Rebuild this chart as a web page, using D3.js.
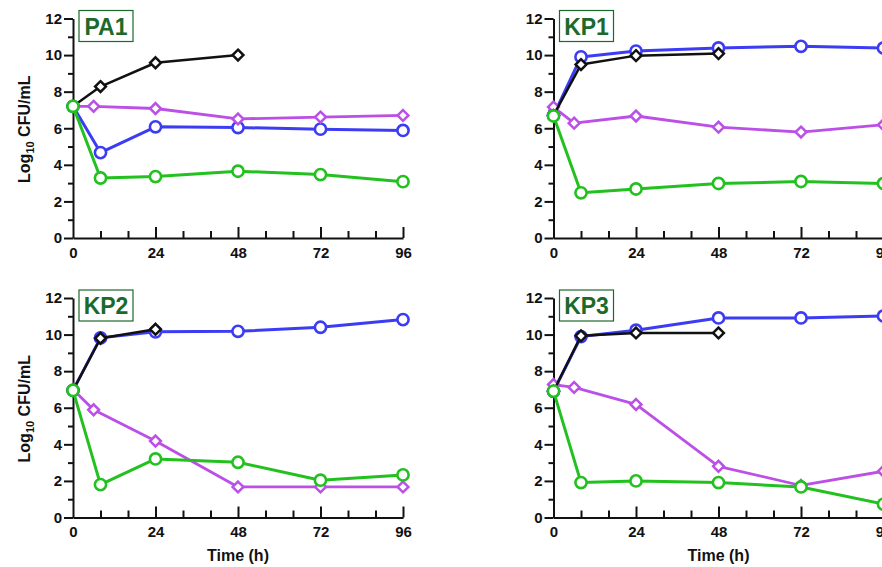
<!DOCTYPE html>
<html>
<head>
<meta charset="utf-8">
<script src="https://cdn.jsdelivr.net/npm/d3@7"></script>
<style>
  html, body { margin: 0; padding: 0; background: #fff; }
  svg { display: block; font-family: "Liberation Sans", Arial, sans-serif; }
</style>
</head>
<body>
<svg id="chart" width="882" height="567"></svg>
<script>
// ---- data ----
const panelNames = ["PA1", "KP1", "KP2", "KP3"];
const timesMain = [0, 8, 24, 48, 72, 96];
const timesPurple = [0, 6, 24, 48, 72, 96];
const timesBlack = [0, 8, 24, 48];
const xTickValues = [0, 24, 48, 72, 96];
const yTickValues = [0, 2, 4, 6, 8, 10, 12];

const blackPA1 = [7.2, 8.28, 9.58, 10.0];
const purplePA1 = [7.2, 7.2, 7.08, 6.51, 6.61, 6.7];
const bluePA1 = [7.2, 4.67, 6.08, 6.04, 5.95, 5.88];
const greenPA1 = [7.2, 3.28, 3.36, 3.65, 3.47, 3.08];

const blackKP1 = [6.7, 9.48, 9.97, 10.08];
const purpleKP1 = [7.16, 6.28, 6.67, 6.06, 5.79, 6.19];
const blueKP1 = [6.7, 9.9, 10.22, 10.39, 10.48, 10.39];
const greenKP1 = [6.67, 2.47, 2.68, 2.98, 3.09, 2.98];

const blackKP2 = [6.95, 9.8, 10.29];
const purpleKP2 = [7.0, 5.89, 4.18, 1.67, 1.67, 1.67];
const blueKP2 = [6.95, 9.82, 10.15, 10.18, 10.4, 10.82];
const greenKP2 = [6.95, 1.8, 3.2, 3.02, 2.04, 2.33];

const blackKP3 = [6.9, 9.93, 10.09, 10.09];
const purpleKP3 = [7.27, 7.11, 6.18, 2.8, 1.75, 2.53];
const blueKP3 = [6.9, 9.89, 10.24, 10.91, 10.91, 11.02];
const greenKP3 = [6.91, 1.91, 2.0, 1.91, 1.67, 0.73];

const seriesByPanel = {
  PA1: { black: blackPA1, purple: purplePA1, blue: bluePA1, green: greenPA1 },
  KP1: { black: blackKP1, purple: purpleKP1, blue: blueKP1, green: greenKP1 },
  KP2: { black: blackKP2, purple: purpleKP2, blue: blueKP2, green: greenKP2 },
  KP3: { black: blackKP3, purple: purpleKP3, blue: blueKP3, green: greenKP3 }
};

// ---- styles / layout ----
const colors = { black: "#111111", purple: "#bb4fe6", blue: "#3b3cf4", green: "#23c11f" };
const lineWidths = { black: 2.5, purple: 2.8, blue: 3, green: 3 };
const markerType = { black: "diamond", purple: "diamond", blue: "circle", green: "circle" };
const drawOrder = ["blue", "purple", "black", "green"];
const timesFor = { black: timesBlack, purple: timesPurple, blue: timesMain, green: timesMain };
const titleColor = "#1b6a2c";

const layout = {
  PA1: { x0: 73, y0: 238, row: 0, col: 0 },
  KP1: { x0: 553.5, y0: 238, row: 0, col: 1 },
  KP2: { x0: 73, y0: 517.5, row: 1, col: 0 },
  KP3: { x0: 553.5, y0: 517.5, row: 1, col: 1 }
};
const plotW = 330, plotH = 219.5;

const svg = d3.select("#chart");

panelNames.forEach(name => {
  const L = layout[name];
  const x = d3.scaleLinear().domain([0, 96]).range([L.x0, L.x0 + plotW]);
  const y = d3.scaleLinear().domain([0, 12]).range([L.y0, L.y0 - plotH]);
  const g = svg.append("g");

  // y axis: major ticks outward (left), minor ticks outward shorter
  const yAxis = d3.axisLeft(y).tickValues(yTickValues).tickSize(9).tickPadding(2).tickSizeOuter(0);
  const yg = g.append("g").attr("transform", `translate(${L.x0},0)`).call(yAxis);
  yg.select(".domain").attr("stroke", "#111").attr("stroke-width", 2);
  yg.selectAll(".tick line").attr("stroke", "#111").attr("stroke-width", 2);
  yg.selectAll(".tick text").attr("font-size", 15).attr("font-weight", "bold").attr("fill", "#111")
    .attr("font-family", "Liberation Sans, Arial, sans-serif");
  const yMinor = d3.axisLeft(y).tickValues(d3.range(1, 12, 2)).tickSize(5).tickFormat("");
  const ymg = g.append("g").attr("transform", `translate(${L.x0},0)`).call(yMinor);
  ymg.select(".domain").remove();
  ymg.selectAll(".tick line").attr("stroke", "#111").attr("stroke-width", 2);

  // x axis: ticks point inward (up)
  const xAxis = d3.axisBottom(x).tickValues(xTickValues).tickSize(0).tickPadding(9).tickSizeOuter(0);
  const xg = g.append("g").attr("transform", `translate(0,${L.y0})`).call(xAxis);
  xg.select(".domain").attr("stroke", "#111").attr("stroke-width", 2);
  xg.selectAll(".tick text").attr("font-size", 15).attr("font-weight", "bold").attr("fill", "#111")
    .attr("font-family", "Liberation Sans, Arial, sans-serif");
  const xMajorIn = d3.axisTop(x).tickValues(xTickValues.filter(v => v > 0)).tickSize(11).tickFormat("");
  const xmj = g.append("g").attr("transform", `translate(0,${L.y0})`).call(xMajorIn);
  xmj.select(".domain").remove();
  xmj.selectAll(".tick line").attr("stroke", "#111").attr("stroke-width", 2);
  const xMinorIn = d3.axisTop(x).tickValues(d3.range(8, 96, 8).filter(v => v % 24 !== 0)).tickSize(7).tickFormat("");
  const xmn = g.append("g").attr("transform", `translate(0,${L.y0})`).call(xMinorIn);
  xmn.select(".domain").remove();
  xmn.selectAll(".tick line").attr("stroke", "#111").attr("stroke-width", 2);

  // title box
  const tb = g.append("g").attr("transform", `translate(${L.x0 + 6},${L.y0 - plotH - 8})`);
  tb.append("rect").attr("x", 0).attr("y", 0).attr("width", 54).attr("height", 31)
    .attr("fill", "#fff").attr("stroke", titleColor).attr("stroke-width", 1.2);
  tb.append("text").attr("x", 27).attr("y", 24).attr("text-anchor", "middle")
    .attr("font-size", 23).attr("font-weight", "bold").attr("fill", titleColor).text(name);

  // series
  const line = d3.line().x(d => x(d[0])).y(d => y(d[1]));
  drawOrder.forEach(key => {
    const vals = seriesByPanel[name][key];
    const pts = vals.map((v, i) => [timesFor[key][i], v]);
    g.append("path").datum(pts).attr("d", line).attr("fill", "none")
      .attr("stroke", colors[key]).attr("stroke-width", lineWidths[key]).attr("stroke-linejoin", "round");
    if (markerType[key] === "circle") {
      g.selectAll(null).data(pts).enter().append("circle")
        .attr("cx", d => x(d[0])).attr("cy", d => y(d[1])).attr("r", 5.6)
        .attr("fill", "#fff").attr("stroke", colors[key]).attr("stroke-width", 2.6);
    } else {
      const s = 5.4;
      g.selectAll(null).data(pts).enter().append("path")
        .attr("transform", d => `translate(${x(d[0])},${y(d[1])})`)
        .attr("d", `M0,${-s}L${s},0L0,${s}L${-s},0Z`)
        .attr("fill", "#fff").attr("stroke", colors[key]).attr("stroke-width", 2.5);
    }
  });

  // axis labels
  if (L.col === 0) {
    const yl = g.append("text").attr("transform", `translate(30,${L.y0 - plotH / 2 + 1}) rotate(-90)`)
      .attr("text-anchor", "middle").attr("font-size", 16).attr("font-weight", "bold").attr("fill", "#111");
    yl.append("tspan").text("Log");
    yl.append("tspan").attr("font-size", 11).attr("dy", 4).text("10");
    yl.append("tspan").attr("dy", -4).text(" CFU/mL");
  }
  if (L.row === 1) {
    g.append("text").attr("x", x(48)).attr("y", L.y0 + 43.5).attr("text-anchor", "middle")
      .attr("font-size", 16).attr("font-weight", "bold").attr("fill", "#111").text("Time (h)");
  }
});
</script>
</body>
</html>
